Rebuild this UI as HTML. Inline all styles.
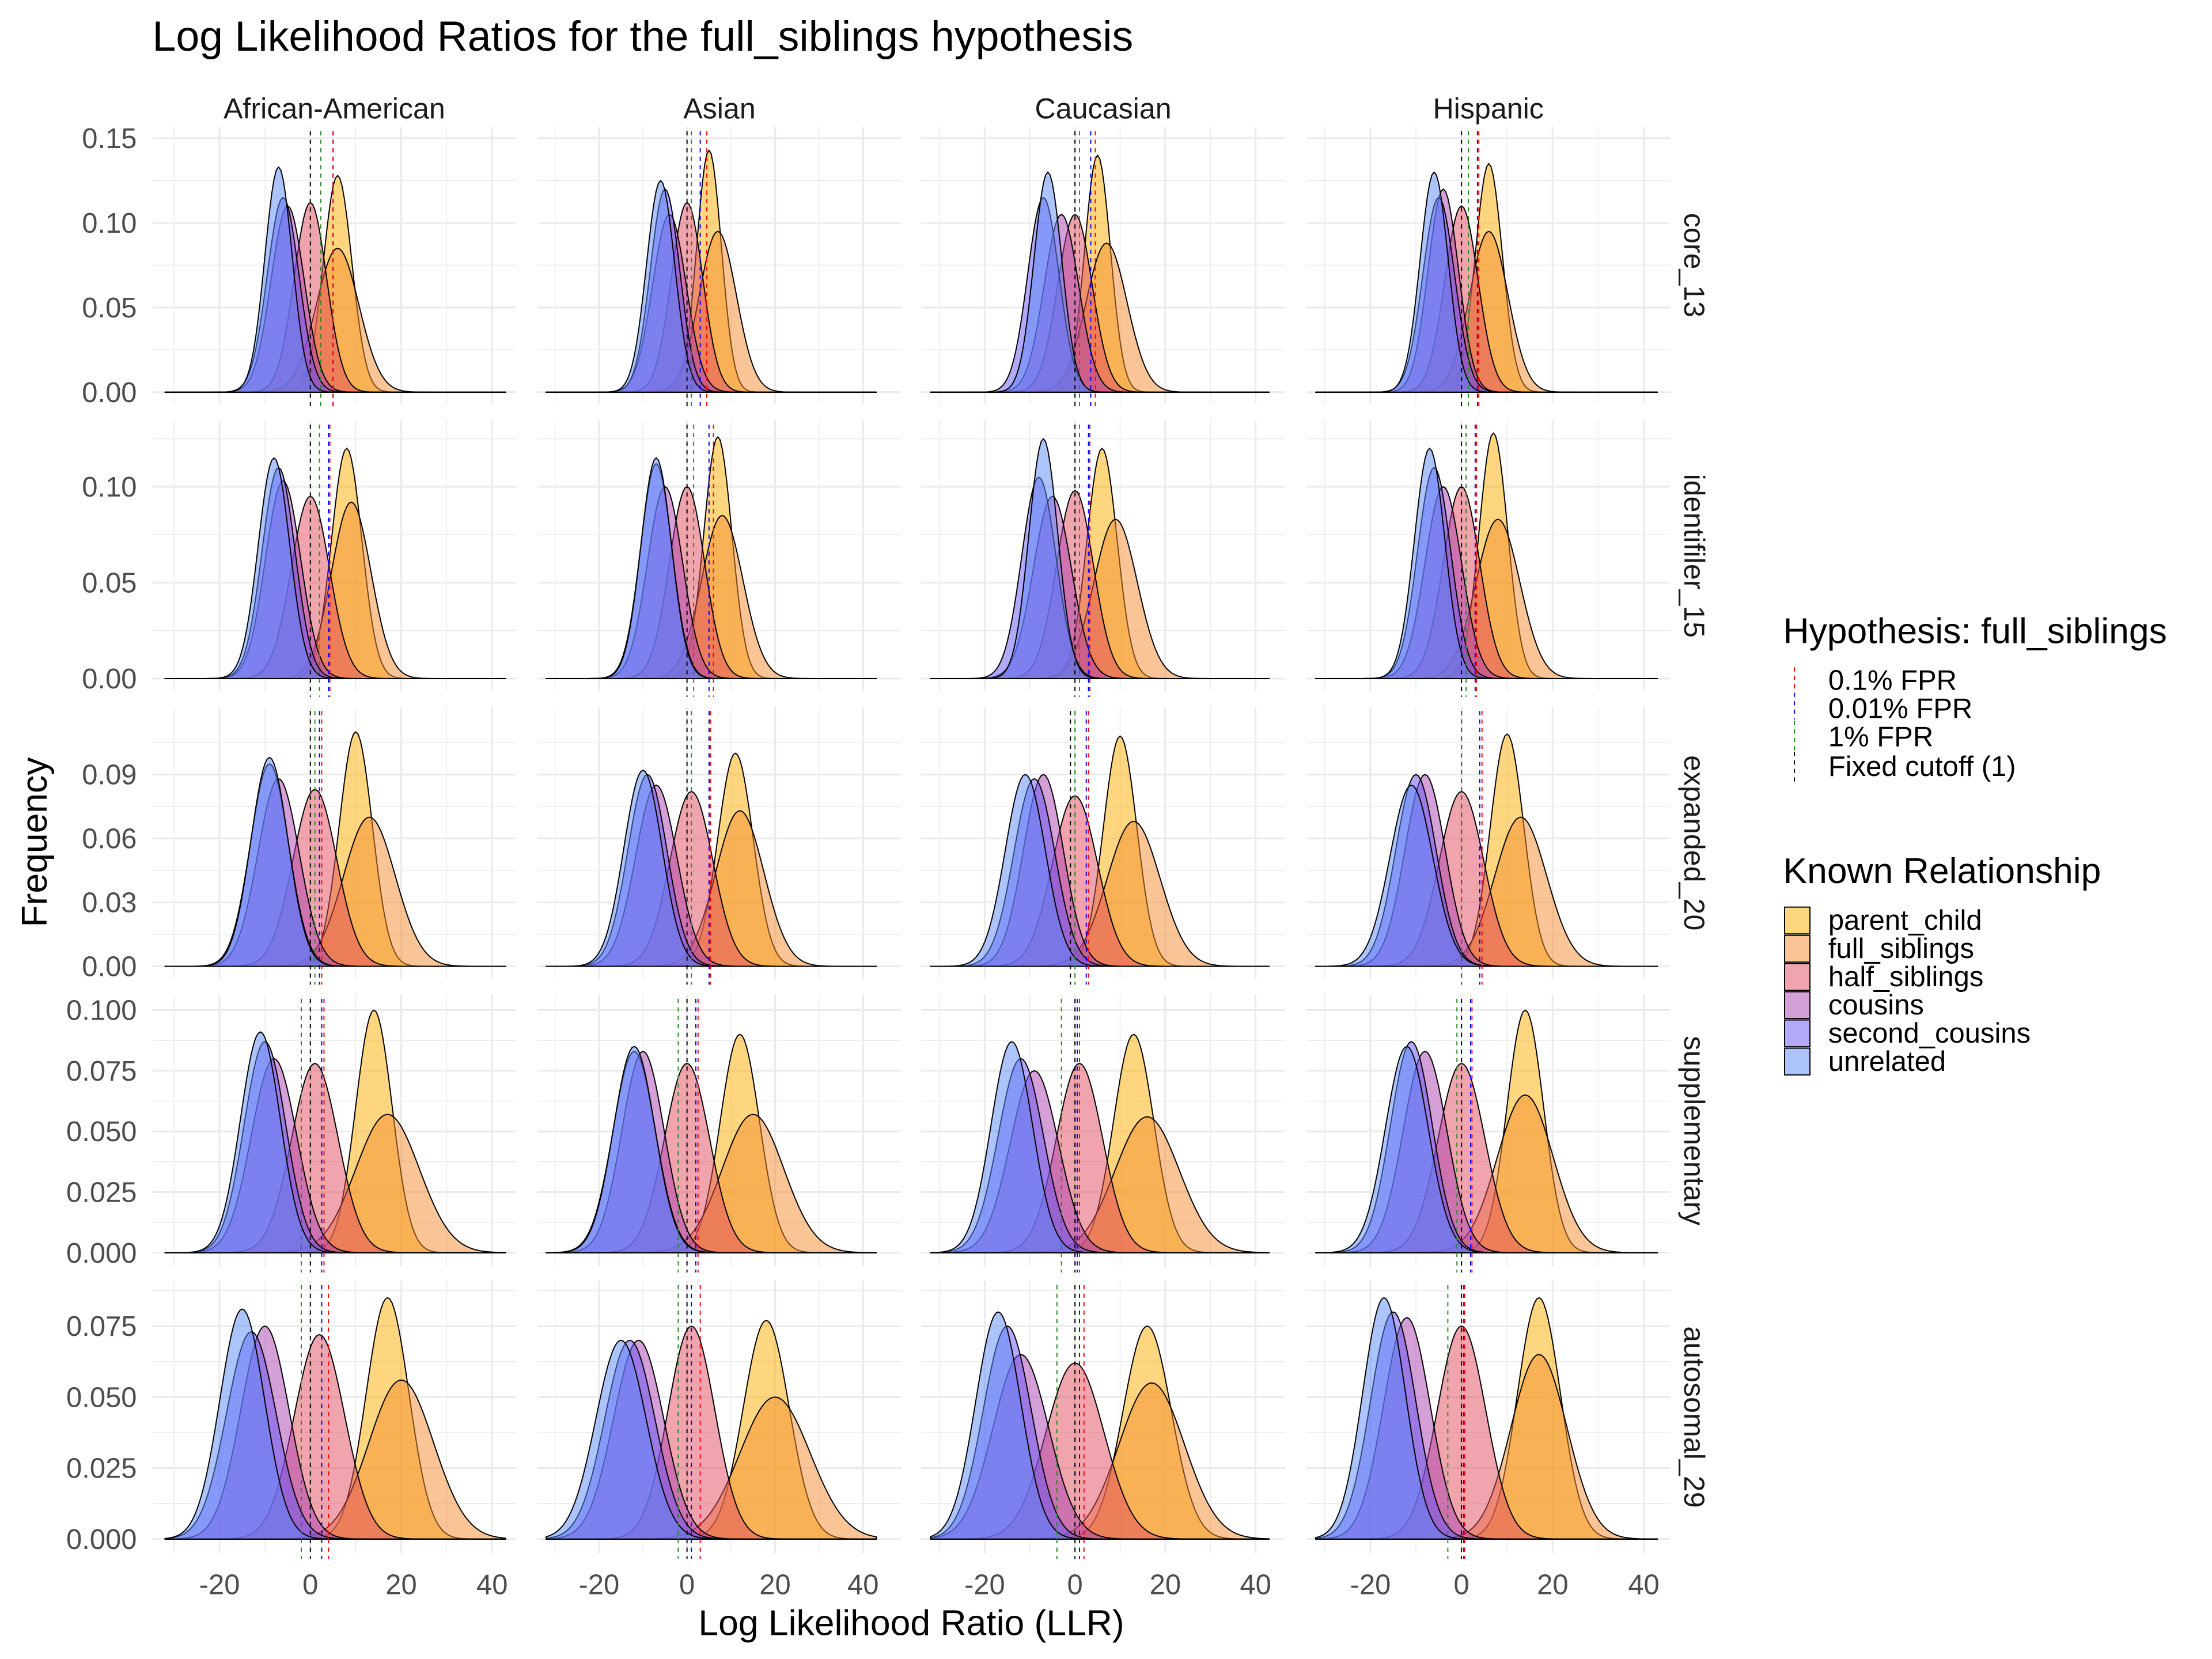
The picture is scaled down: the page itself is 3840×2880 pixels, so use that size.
<!DOCTYPE html>
<html><head><meta charset="utf-8"><title>LLR full_siblings</title>
<style>
html,body{margin:0;padding:0;background:#fff;}
svg{display:block;font-family:"Liberation Sans",Arial,sans-serif;}
</style></head>
<body>
<svg id="chart" width="3840" height="2880" viewBox="0 0 1568 1176" xmlns="http://www.w3.org/2000/svg">
<text x="108" y="36" font-size="30" fill="#000">Log Likelihood Ratios for the full_siblings hypothesis</text>
<text transform="translate(33,597) rotate(-90)" text-anchor="middle" font-size="25.5" fill="#000">Frequency</text>
<text x="646" y="1159" text-anchor="middle" font-size="25.5" fill="#000">Log Likelihood Ratio (LLR)</text>
<g id="panels"></g>
<g>
<text x="1264" y="456" font-size="25.5">Hypothesis: full_siblings</text>
<line x1="1272" y1="473" x2="1272" y2="490" stroke="#ff0000" stroke-width="0.8" stroke-dasharray="3,3"/>
<line x1="1272" y1="491" x2="1272" y2="510" stroke="#0000ff" stroke-width="0.8" stroke-dasharray="3,3"/>
<line x1="1272" y1="511" x2="1272" y2="532" stroke="#228b22" stroke-width="0.8" stroke-dasharray="3,3"/>
<line x1="1272" y1="533" x2="1272" y2="554" stroke="#000" stroke-width="0.8" stroke-dasharray="3,3"/>
<text x="1296" y="489" font-size="20">0.1% FPR</text>
<text x="1296" y="509" font-size="20">0.01% FPR</text>
<text x="1296" y="529" font-size="20">1% FPR</text>
<text x="1296" y="550" font-size="20">Fixed cutoff (1)</text>
</g>
<g id="rel-legend">
<text x="1264" y="626" font-size="25.5">Known Relationship</text>
</g>
</svg>
<script>
const NS="http://www.w3.org/2000/svg";
// categories
const columns=["African-American","Asian","Caucasian","Hispanic"];
const rows=["core_13","identifiler_15","expanded_20","supplementary","autosomal_29"];
const relationships=["unrelated","second_cousins","cousins","half_siblings","full_siblings","parent_child"];
const drawOrder=[5,4,3,2,1,0];
const legendOrder=["parent_child","full_siblings","half_siblings","cousins","second_cousins","unrelated"];
const relColors={parent_child:"#FDAD00",full_siblings:"#F38B2D",half_siblings:"#E14B5D",cousins:"#AB3FB1",second_cousins:"#6553F3",unrelated:"#5B89F7"};
// y tick labels per row
const yTicks=[[0,0.05,0.10,0.15],[0,0.05,0.10],[0,0.03,0.06,0.09],[0,0.025,0.05,0.075,0.10],[0,0.025,0.05,0.075]];
const yTickLabels=[["0.00","0.05","0.10","0.15"],["0.00","0.05","0.10"],["0.00","0.03","0.06","0.09"],["0.000","0.025","0.050","0.075","0.100"],["0.000","0.025","0.050","0.075"]];
const xTicks=[-20,0,20,40];
const xTickLabels=["-20","0","20","40"];
// density peak locations (LLR) [row][col][relationship in `relationships` order]
const peakLLR=[
 [[-7,-6,-5,0,6,6],[-6,-5,-4,0,7,5],[-6,-7,-3,0,7,5],[-6,-5,-4,0,6,6]],
 [[-8,-7,-6,0,9,8],[-7,-7,-5,0,8,7],[-7,-8,-5,0,9,6],[-7,-6,-4,0,8,7]],
 [[-9,-9,-7,1,13,10],[-10,-9,-7,1,12,11],[-11,-9,-7,0,13,10],[-11,-10,-8,0,13,10]],
 [[-11,-10,-8,1,17,14],[-12,-12,-10,0,15,12],[-14,-12,-9,1,16,13],[-12,-11,-8,0,14,14]],
 [[-15,-13,-10,2,20,17],[-15,-13,-11,1,20,18],[-17,-15,-12,0,17,16],[-17,-15,-12,0,17,17]]
];
// density peak heights
const peakDensity=[
 [[0.133,0.115,0.11,0.112,0.085,0.128],[0.125,0.12,0.105,0.112,0.095,0.143],[0.13,0.115,0.105,0.105,0.088,0.14],[0.13,0.115,0.12,0.11,0.095,0.135]],
 [[0.115,0.11,0.103,0.095,0.092,0.12],[0.115,0.112,0.1,0.1,0.085,0.126],[0.125,0.105,0.095,0.098,0.083,0.12],[0.12,0.11,0.1,0.1,0.083,0.128]],
 [[0.098,0.095,0.088,0.083,0.07,0.11],[0.092,0.09,0.085,0.082,0.073,0.1],[0.09,0.088,0.09,0.08,0.068,0.108],[0.085,0.09,0.09,0.082,0.07,0.109]],
 [[0.091,0.087,0.08,0.078,0.057,0.1],[0.085,0.083,0.083,0.078,0.057,0.09],[0.087,0.08,0.075,0.078,0.056,0.09],[0.085,0.087,0.083,0.078,0.065,0.1]],
 [[0.081,0.073,0.075,0.072,0.056,0.085],[0.07,0.07,0.07,0.075,0.05,0.077],[0.08,0.075,0.065,0.062,0.055,0.075],[0.085,0.08,0.078,0.075,0.065,0.085]]
];
// cutoffs [row][col] : [fixed, 1% FPR, 0.01% FPR, 0.1% FPR]
const cutoffNames=["fixed","1pct","0.01pct","0.1pct"];
const cutoffColors=["#000000","#228b22","#0000ff","#ff0000"];
const cutoffs=[
 [[0,2.3,5,5],[0,1,3,4.5],[0,1,3.5,4.5],[0,1.5,3.5,3.8]],
 [[0,2,4,4.3],[0,1.5,5,6],[0,1,3,3.3],[0,1,3,3.3]],
 [[0,1,2,2.5],[0,1,5,5.3],[-1,0,2.5,3],[0,0,4,4.5]],
 [[0,-2,2.5,3],[0,-2,2,2.5],[0,-3,0.5,1],[0,-1,2,2.3]],
 [[0,-2,2.5,4],[0,-2,1,3],[0,-4,1,2],[0,-3,0.5,0.7]]
];
// layout (display units)
const colLeft=[108,381,653,926], colW=258;
const colZero=[220,487,762,1036], colUnit=[3.22,3.12,3.2,3.23];
const rowTop=[90,298,501,705,908], rowBottom=[286,490,694,898,1101];
const rowZero=[278,481,685,888,1091], rowUnit=[1200,1360,1511,1720,2013];

function mk(tag,attrs,parent){const e=document.createElementNS(NS,tag);for(const k in attrs)e.setAttribute(k,attrs[k]);parent.appendChild(e);return e;}
const root=document.getElementById('panels');
const defs=mk('defs',{},root);

columns.forEach((c,ci)=>{
  const t=mk('text',{x:colLeft[ci]+colW/2,y:84,'text-anchor':'middle','font-size':'20.5',fill:'#1a1a1a'},root);
  
  
  t.textContent=c;
  xTicks.forEach((v,i)=>{
    const lt=mk('text',{x:colZero[ci]+v*colUnit[ci],y:1130,'text-anchor':'middle','font-size':'20','fill':'#4d4d4d'},root);
    
    
    lt.textContent=xTickLabels[i];
  });
});

rows.forEach((r,ri)=>{
  const ys=v=>rowZero[ri]-v*rowUnit[ri];
  const st=mk('text',{transform:`translate(1194,${(rowTop[ri]+rowBottom[ri])/2}) rotate(90)`,'text-anchor':'middle','font-size':'20.5',fill:'#1a1a1a'},root);
  
  
  st.textContent=r;
  yTicks[ri].forEach((v,i)=>{
    const tl=mk('text',{x:97,y:ys(v)+7,'text-anchor':'end','font-size':'20',fill:'#4d4d4d'},root);
    
    
    tl.textContent=yTickLabels[ri][i];
  });
  columns.forEach((c,ci)=>{
    const xs=v=>colZero[ci]+v*colUnit[ci];
    const g=mk('g',{},root);
    
    
    const cid='clip'+ri+'_'+ci;
    const cp=mk('clipPath',{id:cid},defs);
    mk('rect',{x:colLeft[ci],y:rowTop[ri],width:colW,height:rowBottom[ri]-rowTop[ri]},cp);
    const step=yTicks[ri][1]-yTicks[ri][0];
    yTicks[ri].forEach(v=>{
      const mv=v+step/2;
      if(ys(mv)>rowTop[ri]) mk('line',{x1:colLeft[ci],x2:colLeft[ci]+colW,y1:ys(mv),y2:ys(mv),stroke:'#ebebeb','stroke-width':0.6},g);
    });
    [-30,-10,10,30].forEach(v=>mk('line',{x1:xs(v),x2:xs(v),y1:rowTop[ri],y2:rowBottom[ri],stroke:'#ebebeb','stroke-width':0.6},g));
    yTicks[ri].forEach(v=>mk('line',{x1:colLeft[ci],x2:colLeft[ci]+colW,y1:ys(v),y2:ys(v),stroke:'#ebebeb','stroke-width':1.3},g));
    xTicks.forEach(v=>mk('line',{x1:xs(v),x2:xs(v),y1:rowTop[ri],y2:rowBottom[ri],stroke:'#ebebeb','stroke-width':1.3},g));
    const cg=mk('g',{'clip-path':`url(#${cid})`},g);
    drawOrder.forEach(k=>{
      const rel=relationships[k];
      const m=peakLLR[ri][ci][k], pk=peakDensity[ri][ci][k];
      const sd=1/(pk*2.5066);
      let d=`M${xs(-32).toFixed(2)},${ys(0).toFixed(2)}`;
      for(let x=-32;x<=43.001;x+=0.5){
        const y=pk*Math.exp(-0.5*((x-m)/sd)**2);
        d+=`L${xs(x).toFixed(2)},${ys(y).toFixed(2)}`;
      }
      d+=`L${xs(43).toFixed(2)},${ys(0).toFixed(2)}Z`;
      const p=mk('path',{d:d,fill:relColors[rel],'fill-opacity':0.5,stroke:'#000','stroke-width':0.8,'stroke-linejoin':'round'},cg);
      
      
    });
    cutoffs[ri][ci].forEach((v,k)=>{
      const l=mk('line',{x1:xs(v),x2:xs(v),y1:rowTop[ri]+3,y2:rowBottom[ri]+4,stroke:cutoffColors[k],'stroke-width':0.8,'stroke-dasharray':'3,3'},g);
      
      
    });
  });
});

const lg=document.getElementById('rel-legend');
legendOrder.forEach((rel,i)=>{
  const y=643+i*20;
  const r=mk('rect',{x:1265,y:y,width:18,height:19,fill:relColors[rel],'fill-opacity':0.5,stroke:'#000','stroke-width':0.8},lg);
  
  
  const t=mk('text',{x:1296,y:y+16,'font-size':'20'},lg);
  
  
  t.textContent=rel;
});
</script>
</body></html>
